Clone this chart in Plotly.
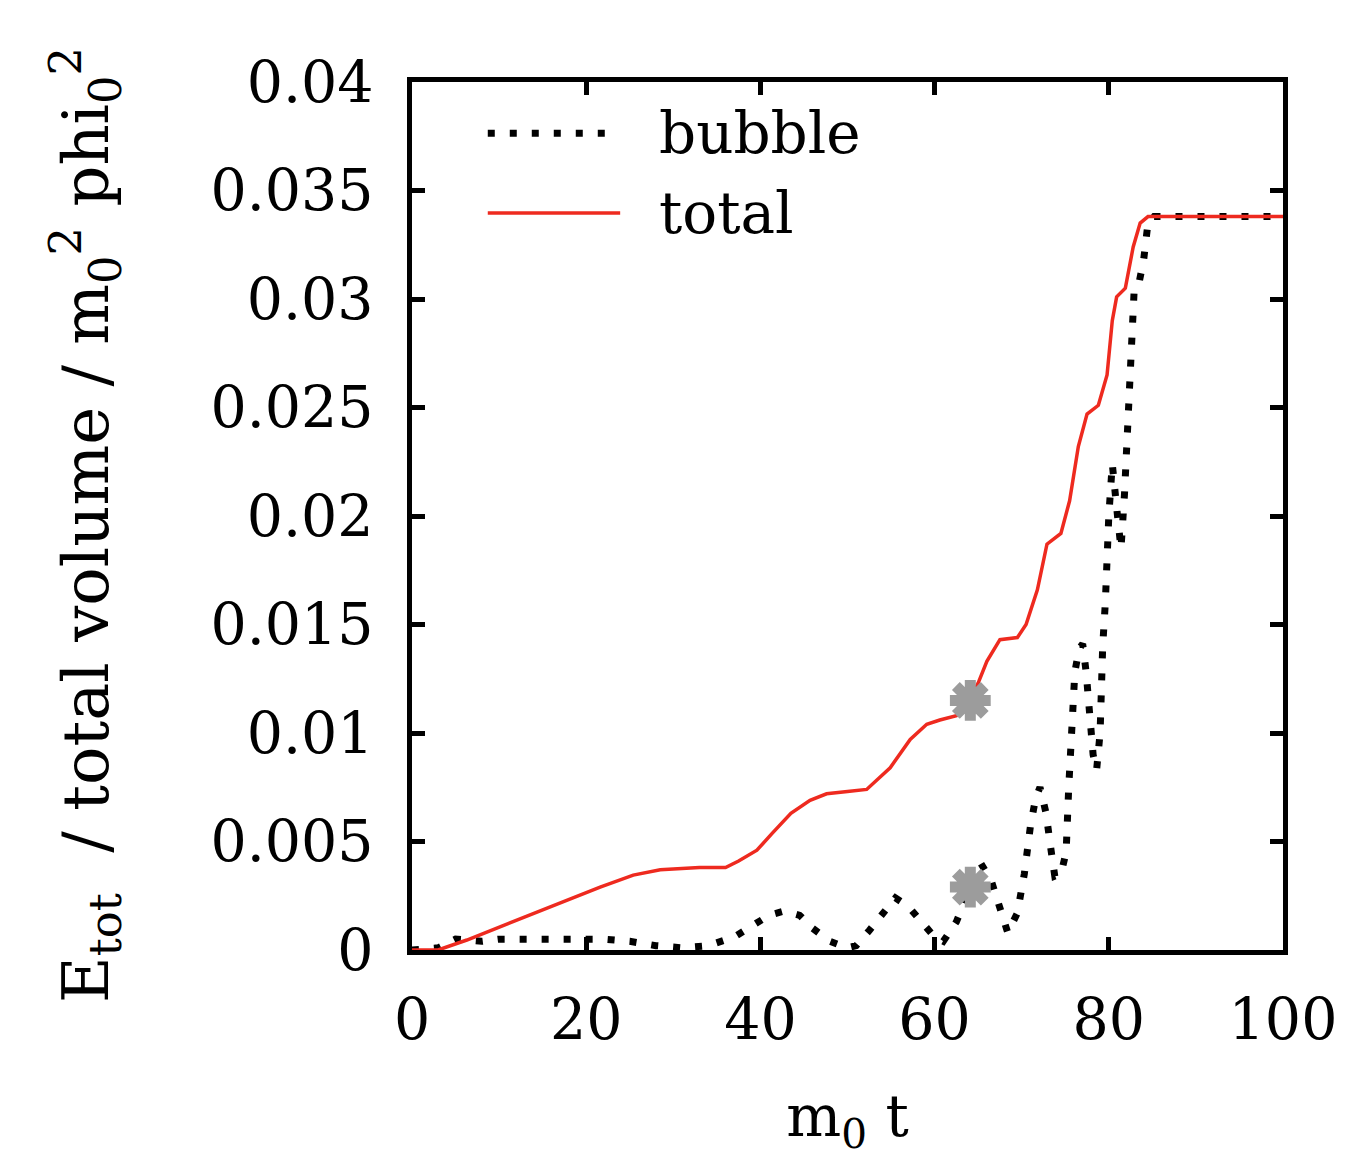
import plotly.graph_objects as go

# ---- data ----
total_x = [0, 3, 6.3, 10, 15.8, 21.6, 25.4, 28.5, 33, 36, 37.5, 39.6, 41.4, 43.5, 45.7, 47.6, 50, 52.2, 54.9,
           57.2, 59.1, 60.6, 62.5, 64, 65, 66, 67.5, 69.5, 70.5, 71.8, 72.9, 74.5, 75.5, 76.5, 77.5, 78.8,
           79.8, 80.4, 80.9, 81.9, 82.8, 83.6, 84.5, 100]
total_y = [0, 0.0000, 0.00046, 0.00106, 0.0020, 0.0029, 0.00345, 0.0037, 0.0038, 0.0038, 0.0041, 0.0046,
           0.0054, 0.0063, 0.0069, 0.0072, 0.0073, 0.0074, 0.0084, 0.0097, 0.0104, 0.0106, 0.0108, 0.0115,
           0.0123, 0.0133, 0.0143, 0.0144, 0.0150, 0.0166, 0.0187, 0.0192, 0.0207, 0.0232, 0.0247, 0.0251,
           0.0265, 0.0290, 0.0301, 0.0305, 0.0324, 0.0335, 0.0338, 0.0338]

bubble_x = [0, 3, 5, 8, 10, 14, 18, 22, 25, 28, 31, 34, 37, 39, 41, 42.8, 44.5, 46, 48, 50, 51, 52.5, 54,
            55.5, 57, 58.5, 60, 61, 62.5, 64, 65.3, 66.5, 67.5, 68.4, 69.5, 70.3, 71, 71.6, 72.1, 72.8,
            73.3, 73.8, 74.5, 75.1, 75.4, 75.7, 76.1, 76.6, 77.0, 77.4, 77.8, 78.2, 78.6, 79.0, 79.3,
            79.6, 80.0, 80.4, 81.0, 81.4, 81.8, 82.2, 82.6, 82.9, 83.4, 84.0, 84.5, 85.2, 100]
bubble_y = [0, 0.0001, 0.0005, 0.0004, 0.0005, 0.0005, 0.0005, 0.0005, 0.0004, 0.0002, 0.0001, 0.0002,
            0.0006, 0.0011, 0.0016, 0.0018, 0.0016, 0.0010, 0.0004, 0.0001, 0.0002, 0.0009, 0.0017,
            0.0024, 0.0020, 0.0013, 0.0006, 0.0004, 0.0013, 0.0028, 0.0040, 0.0032, 0.0018, 0.0008,
            0.0017, 0.0035, 0.0057, 0.0070, 0.0075, 0.0063, 0.0048, 0.0034, 0.0035, 0.0045, 0.0075,
            0.0105, 0.0128, 0.0139, 0.0141, 0.0128, 0.0108, 0.0090, 0.0083, 0.0100, 0.0140, 0.0160,
            0.0200, 0.0224, 0.0200, 0.0185, 0.0210, 0.0245, 0.0285, 0.0303, 0.0306, 0.0318, 0.0335,
            0.0338, 0.0338]

marker_x = [64.1, 64.1]
marker_y = [0.0115, 0.0029]

x_ticks = [0, 20, 40, 60, 80, 100]
y_ticks = [0, 0.005, 0.01, 0.015, 0.02, 0.025, 0.03, 0.035, 0.04]
y_tick_text = ["0", "0.005", "0.01", "0.015", "0.02", "0.025", "0.03", "0.035", "0.04"]

FONT = "DejaVu Serif"
RED = "#ee2a1f"
GRAY = "#9c9c9c"

fig = go.Figure()
fig.add_trace(go.Scatter(x=bubble_x, y=bubble_y, mode="lines", name="bubble",
                         line=dict(color="black", width=7, dash="7px,15px")))
fig.add_trace(go.Scatter(x=total_x, y=total_y, mode="lines", name="total",
                         line=dict(color=RED, width=3.5)))
fig.add_trace(go.Scatter(x=marker_x, y=marker_y, mode="markers", showlegend=False,
                         marker=dict(symbol="asterisk-open", size=34, color=GRAY,
                                     line=dict(color=GRAY, width=11))))

# manual legend (long samples like the original)
fig.add_shape(type="line", xref="paper", yref="paper", x0=0.087, x1=0.222, y0=0.941, y1=0.941,
              line=dict(color="black", width=7, dash="7px,15px"))
fig.add_shape(type="line", xref="paper", yref="paper", x0=0.087, x1=0.239, y0=0.849, y1=0.849,
              line=dict(color=RED, width=3.5))
fig.add_annotation(text="bubble", xref="paper", yref="paper", x=0.281, y=0.941, xanchor="left",
                   yanchor="middle", showarrow=False, font=dict(family=FONT, size=58, color="black"))
fig.add_annotation(text="total", xref="paper", yref="paper", x=0.281, y=0.849, xanchor="left",
                   yanchor="middle", showarrow=False, font=dict(family=FONT, size=58, color="black"))

# y-axis title as rotated annotation for precise placement
fig.add_annotation(text="E<sub>tot</sub>  / total volume / m<sub>0</sub><sup>2</sup> phi<sub>0</sub><sup>2</sup>",
                   xref="paper", yref="paper", x=-0.375, y=0.49, xanchor="center", yanchor="middle",
                   textangle=-90, showarrow=False, font=dict(family=FONT, size=64, color="black"))

axis_common = dict(showline=True, linecolor="black", linewidth=5, mirror="allticks",
                   ticks="inside", ticklen=13, tickwidth=5, tickcolor="black",
                   showgrid=False, zeroline=False,
                   tickfont=dict(family=FONT, size=57, color="black"))

fig.update_xaxes(range=[0, 100], tickvals=x_ticks, ticklabelstandoff=16,
                 title=dict(text="m<sub>0</sub> t", font=dict(family=FONT, size=58, color="black"),
                            standoff=45),
                 **axis_common)
fig.update_yaxes(range=[0, 0.04], tickvals=y_ticks, ticktext=y_tick_text, ticklabelstandoff=22,
                 **axis_common)

fig.update_layout(width=1358, height=1166, showlegend=False,
                  margin=dict(l=404, r=83, t=74, b=224),
                  plot_bgcolor="white", paper_bgcolor="white")

fig.write_html("out.html")
